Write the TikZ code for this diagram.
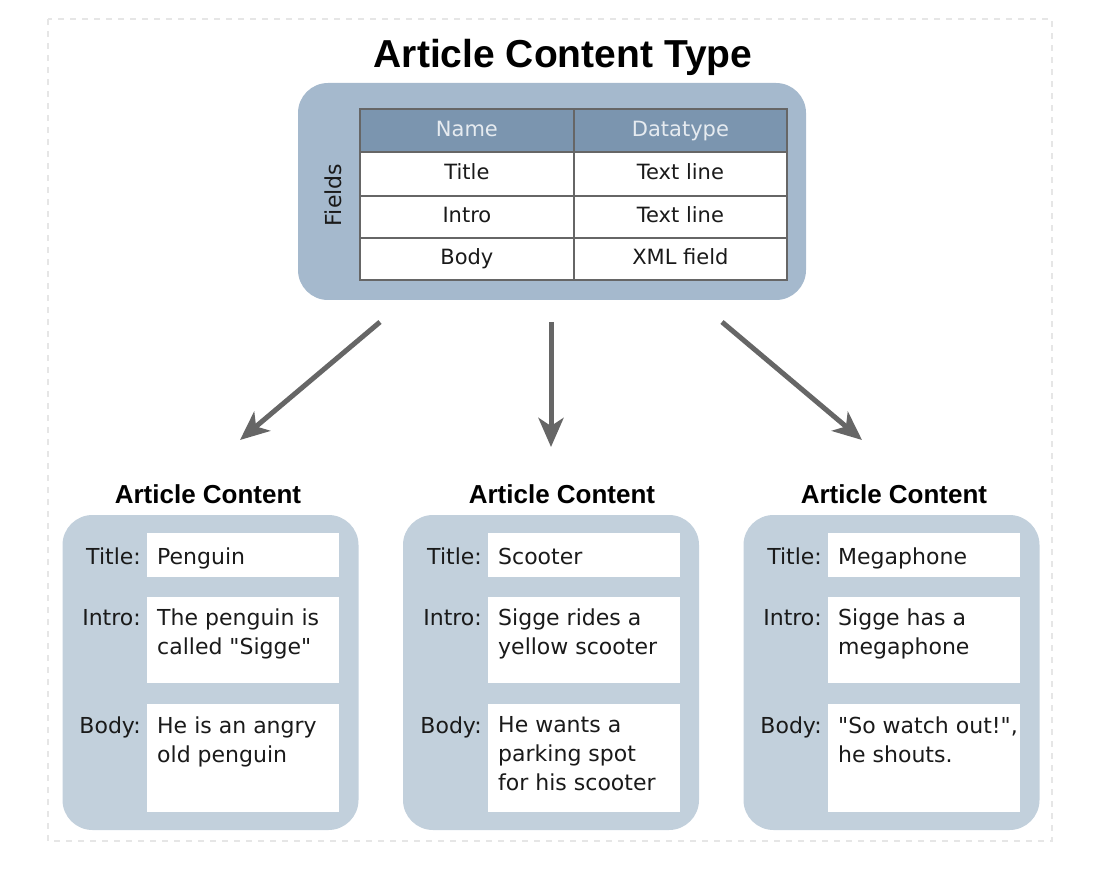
\documentclass[tikz,border=0pt]{standalone}
\usepackage{fontspec}
\setmainfont{DejaVu Sans}
\newfontfamily\headfont{Liberation Sans}
\usetikzlibrary{arrows.meta}
\definecolor{topc}{HTML}{A5B9CD}
\definecolor{botc}{HTML}{C2D0DC}
\definecolor{headc}{HTML}{7B95AF}
\definecolor{headtxt}{HTML}{E6EBF0}
\definecolor{gridc}{HTML}{666666}
\definecolor{arrowc}{HTML}{666666}
\definecolor{txtc}{HTML}{1A1A1A}
\definecolor{dashc}{HTML}{E6E6E6}
\begin{document}
\begin{tikzpicture}[x=1pt,y=-1pt,
  bigtitle/.style={font=\headfont\bfseries\fontsize{39}{44}\selectfont, text=black, inner sep=0pt, anchor=base},
  subtitle/.style={font=\headfont\bfseries\fontsize{26}{30}\selectfont, text=black, inner sep=0pt, anchor=base},
  topbox/.style={fill=topc, draw=none, rounded corners=30pt, minimum width=508pt, minimum height=217pt, inner sep=0pt},
  botbox/.style={fill=botc, draw=none, rounded corners=30pt, minimum width=296pt, minimum height=315pt, inner sep=0pt},
  hcell/.style={fill=headc, draw=gridc, line width=1.8pt, anchor=north west, inner sep=0pt, text height=15pt, text depth=3pt, text=headtxt, font=\fontsize{21}{25}\selectfont},
  cell/.style={fill=white, draw=gridc, line width=1.8pt, anchor=north west, inner sep=0pt, text height=15pt, text depth=3pt, text=txtc, font=\fontsize{21}{25}\selectfont},
  wbox/.style={fill=white, draw=none, anchor=north west, inner sep=0pt, minimum width=192pt},
  lab/.style={font=\fontsize{22}{29}\selectfont, text=txtc, inner sep=0pt, anchor=base east},
  txt/.style={font=\fontsize{22}{29}\selectfont, text=txtc, inner sep=0pt, anchor=base west, align=left},
  arr/.style={draw=arrowc, line width=5pt, -{Stealth[length=29pt,width=25pt,inset=8pt]}},
  dashbox/.style={draw=dashc, line width=1.5pt, dash pattern=on 6pt off 6pt}
]
\useasboundingbox (0,0) rectangle (1102,882);
\draw[dashbox] (48,19) rectangle (1052,841);

% title and top box
\node[bigtitle] (ttl) at (563,68) {Article Content Type};
\node[topbox] (top) at (552,191.5) {};
\node[font=\fontsize{22}{26}\selectfont, text=txtc, rotate=90, inner sep=0pt] (fields) at (333,195) {Fields};

% table
\node[hcell, minimum width=214pt, minimum height=43pt] (h1) at (359,108) {Name};
\node[hcell, minimum width=213pt, minimum height=43pt] (h2) at (573,108) {Datatype};
\node[cell, minimum width=214pt, minimum height=44pt] (r1a) at (359,151) {Title};
\node[cell, minimum width=213pt, minimum height=44pt] (r1b) at (573,151) {Text line};
\node[cell, minimum width=214pt, minimum height=42pt] (r2a) at (359,195) {Intro};
\node[cell, minimum width=213pt, minimum height=42pt] (r2b) at (573,195) {Text line};
\node[cell, minimum width=214pt, minimum height=42pt] (r3a) at (359,237) {Body};
\node[cell, minimum width=213pt, minimum height=42pt] (r3b) at (573,237) {XML field};

% arrows
\coordinate (s1) at (380,322);
\coordinate (e1) at (240,440);
\coordinate (s2) at (551,322);
\coordinate (e2) at (551,447);
\coordinate (s3) at (722,322);
\coordinate (e3) at (862,440);
\draw[arr] (s1) -- (e1);
\draw[arr] (s2) -- (e2);
\draw[arr] (s3) -- (e3);

% box 1
\node[subtitle] (st1) at (208,503) {Article Content};
\node[botbox] (ac1) at (210.5,672.5) {};
\node[wbox, minimum height=44pt] (w1t) at (147,533) {};
\node[wbox, minimum height=86pt] (w1i) at (147,597) {};
\node[wbox, minimum height=108pt] (w1b) at (147,704) {};
\node[lab] (l1t) at (141,564) {Title:};
\node[lab] (l1i) at (141,625) {Intro:};
\node[lab] (l1b) at (141,733) {Body:};
\node[txt] (x1t) at (157,564) {Penguin};
\node[txt] (x1i) at (157,654) {The penguin is\\called \textquotedbl Sigge\textquotedbl};
\node[txt] (x1b) at (157,762) {He is an angry\\old penguin};

% box 2
\node[subtitle] (st2) at (562,503) {Article Content};
\node[botbox] (ac2) at (551,672.5) {};
\node[wbox, minimum height=44pt] (w2t) at (488,533) {};
\node[wbox, minimum height=86pt] (w2i) at (488,597) {};
\node[wbox, minimum height=108pt] (w2b) at (488,704) {};
\node[lab] (l2t) at (482,564) {Title:};
\node[lab] (l2i) at (482,625) {Intro:};
\node[lab] (l2b) at (482,733) {Body:};
\node[txt] (x2t) at (498,564) {Scooter};
\node[txt] (x2i) at (498,654) {Sigge rides a\\yellow scooter};
\node[txt] (x2b) at (498,790) {He wants a\\parking spot\\for his scooter};

% box 3
\node[subtitle] (st3) at (894,503) {Article Content};
\node[botbox] (ac3) at (891.5,672.5) {};
\node[wbox, minimum height=44pt] (w3t) at (828,533) {};
\node[wbox, minimum height=86pt] (w3i) at (828,597) {};
\node[wbox, minimum height=108pt] (w3b) at (828,704) {};
\node[lab] (l3t) at (822,564) {Title:};
\node[lab] (l3i) at (822,625) {Intro:};
\node[lab] (l3b) at (822,733) {Body:};
\node[txt] (x3t) at (838,564) {Megaphone};
\node[txt] (x3i) at (838,654) {Sigge has a\\megaphone};
\node[txt] (x3b) at (838,762) {\textquotedbl So watch out!\textquotedbl,\\he shouts.};
\end{tikzpicture}
\end{document}
